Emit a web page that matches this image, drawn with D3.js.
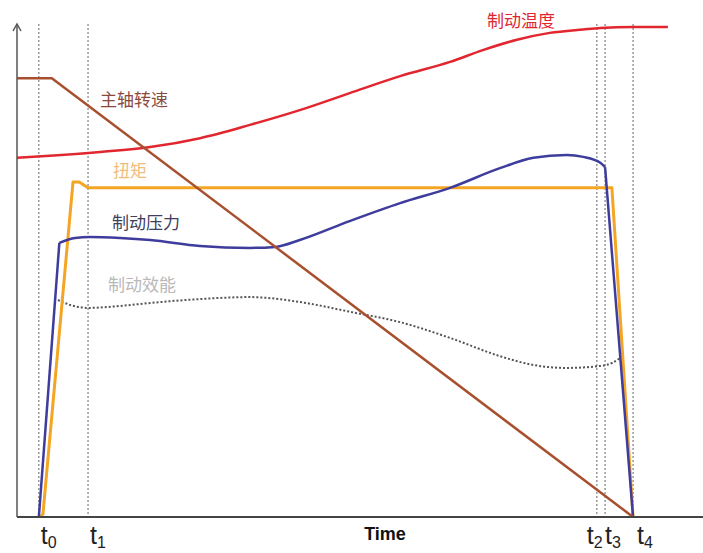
<!DOCTYPE html>
<html>
<head>
<meta charset="utf-8">
<script src="https://cdn.jsdelivr.net/npm/d3@7"></script>
<style>
  html, body { margin: 0; padding: 0; background: #fff; }
  svg { display: block; }
</style>
</head>
<body>
<div id="chart"></div>
<script>
// time markers (arbitrary time units) and their labels
const markerTimes = [3.2, 10.4, 84.9, 86.1, 90.2];
const markerSubs = ["0", "1", "2", "3", "4"];

// 主轴转速
const speedT = [0, 5.1, 90.2];
const speedV = [89.2, 89.2, 0];

// 制动温度
const tempT = [0, 4.8, 12.2, 19.5, 26.8, 34.1, 41.4, 48.8, 56.1, 63.4, 68.2, 73.2, 78.0, 82.9, 85.4, 90.2, 95.3];
const tempV = [73.0, 73.4, 74.2, 75.2, 77.0, 79.7, 82.7, 86.2, 89.6, 92.5, 94.9, 97.0, 98.4, 99.1, 99.4, 99.6, 99.6];

// 扭矩
const torqueT = [3.4, 3.8, 8.2, 9.1, 10.4, 87.1, 90.2];
const torqueV = [0, 0.6, 68.1, 68.1, 66.9, 66.9, 0];

// 制动压力
const pressT = [3.2, 6.2, 8.5, 10.7, 15.1, 19.5, 26.8, 34.1, 37.8, 41.4, 48.8, 56.1, 63.4, 70.7, 75.6, 80.5, 82.9, 85.4, 86.1, 90.2];
const pressV = [0, 55.7, 56.7, 56.9, 56.7, 56.3, 55.1, 54.7, 54.9, 56.3, 60.2, 63.8, 66.9, 70.9, 73.0, 73.6, 73.2, 72.0, 71.1, 0];

// 制动效能
const effT = [6.0, 7.8, 10.4, 15.1, 19.5, 26.8, 34.1, 41.4, 48.8, 56.1, 63.4, 70.7, 75.6, 80.5, 85.4, 87.1, 88.3];
const effV = [44.1, 43.1, 42.5, 42.9, 43.5, 44.3, 44.7, 43.7, 41.7, 39.6, 36.4, 32.7, 30.9, 30.3, 30.7, 31.3, 32.3];

const seriesNames = ["主轴转速", "扭矩", "制动压力", "制动效能", "制动温度"];

const width = 703, height = 553;
const x = d3.scaleLinear().domain([0, 100]).range([17, 700]);
const y = d3.scaleLinear().domain([0, 100]).range([517, 25]);

const svg = d3.select("#chart").append("svg")
  .attr("width", width)
  .attr("height", height)
  .style("font-family", "'Liberation Sans', Arial, sans-serif");

const zip = (ts, vs) => ts.map((t, i) => [t, vs[i]]);
const lineLin = d3.line().x(d => x(d[0])).y(d => y(d[1]));
const lineCurve = d3.line().x(d => x(d[0])).y(d => y(d[1])).curve(d3.curveMonotoneX);

// dashed time markers
svg.append("g")
  .selectAll("line")
  .data(markerTimes)
  .join("line")
  .attr("x1", d => x(d)).attr("x2", d => x(d))
  .attr("y1", 24).attr("y2", y(0))
  .attr("stroke", "#666")
  .attr("stroke-width", 1)
  .attr("stroke-dasharray", "2,2");

// curves
svg.append("path").datum(zip(tempT, tempV))
  .attr("d", lineCurve).attr("fill", "none")
  .attr("stroke", "#e2262f").attr("stroke-width", 2.5);

svg.append("path").datum(zip(effT, effV))
  .attr("d", lineCurve).attr("fill", "none")
  .attr("stroke", "#555").attr("stroke-width", 2)
  .attr("stroke-dasharray", "2,2");

svg.append("path").datum(zip(torqueT, torqueV))
  .attr("d", lineLin).attr("fill", "none")
  .attr("stroke", "#f5a524").attr("stroke-width", 3)
  .attr("stroke-linejoin", "round");

// pressure: straight ramps at both ends, smooth in between
const press = zip(pressT, pressV);
const n = press.length;
const pressG = svg.append("g")
  .attr("fill", "none")
  .attr("stroke", "#3e3c9c")
  .attr("stroke-width", 2.5)
  .attr("stroke-linejoin", "round");
pressG.append("path").attr("d", lineLin(press.slice(0, 2)));
pressG.append("path").attr("d", lineCurve(press.slice(1, n - 1)));
pressG.append("path").attr("d", lineLin(press.slice(n - 2)));

svg.append("path").datum(zip(speedT, speedV))
  .attr("d", lineLin).attr("fill", "none")
  .attr("stroke", "#a8502e").attr("stroke-width", 2.5);

// axes
svg.append("line")
  .attr("x1", x(0)).attr("x2", width)
  .attr("y1", y(0)).attr("y2", y(0))
  .attr("stroke", "#444").attr("stroke-width", 2);
svg.append("line")
  .attr("x1", x(0)).attr("x2", x(0))
  .attr("y1", y(0)).attr("y2", 24)
  .attr("stroke", "#555").attr("stroke-width", 1.5);
svg.append("path")
  .attr("d", `M${x(0) - 4},31L${x(0)},24L${x(0) + 4},31`)
  .attr("fill", "none").attr("stroke", "#555").attr("stroke-width", 1.5);

// marker labels t0..t4
const labelDx = [2, 2, -10, 0, 4];
const tl = svg.append("g")
  .selectAll("text")
  .data(markerTimes)
  .join("text")
  .attr("x", (d, i) => x(d) + labelDx[i])
  .attr("y", 544)
  .attr("font-size", 25)
  .attr("fill", "#222");
tl.append("tspan").text("t");
tl.append("tspan")
  .attr("font-size", 16)
  .attr("dy", 4)
  .text((d, i) => markerSubs[i]);

svg.append("text")
  .attr("x", 385).attr("y", 540)
  .attr("text-anchor", "middle")
  .attr("font-size", 18)
  .attr("font-weight", "bold")
  .attr("fill", "#111")
  .text("Time");

// series labels
const labelPos = [[100, 106], [113, 177], [112, 229], [108, 291], [487, 27]];
const labelColors = ["#8a4a3c", "#efbd7c", "#40405c", "#b9b9b9", "#e2262f"];
svg.append("g")
  .selectAll("text")
  .data(seriesNames)
  .join("text")
  .attr("x", (d, i) => labelPos[i][0])
  .attr("y", (d, i) => labelPos[i][1])
  .attr("font-family", "'Noto Sans CJK SC', sans-serif")
  .attr("font-size", 17)
  .attr("fill", (d, i) => labelColors[i])
  .text(d => d);
</script>
</body>
</html>
